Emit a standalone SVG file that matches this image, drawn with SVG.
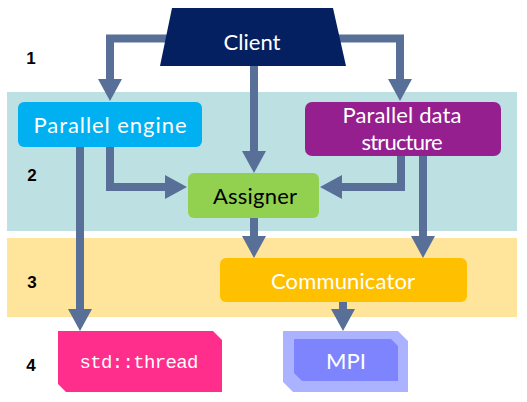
<svg xmlns="http://www.w3.org/2000/svg" width="527" height="402" viewBox="0 0 527 402">
  <style>
    .lbl { font-family: "Lato", "Open Sans", sans-serif; font-size: 22px; fill: #ffffff; text-anchor: middle; }
    .num { font-family: "Liberation Sans", Arial, sans-serif; font-size: 17px; font-weight: bold; fill: #000000; text-anchor: middle; }
    .conn { fill: none; stroke: #587098; stroke-width: 8; stroke-linejoin: miter; marker-end: url(#ah); }
  </style>
  <defs>
    <marker id="ah" markerUnits="userSpaceOnUse" markerWidth="22" markerHeight="24" refX="0" refY="12" orient="auto" viewBox="0 0 22 24">
      <path d="M0,0 L22,12 L0,24 z" fill="#587098"/>
    </marker>
  </defs>
  <rect width="527" height="402" fill="#ffffff"/>
  <g id="bands">
    <rect x="7" y="92" width="510" height="139" fill="#bde0e3"/>
    <rect x="7" y="238" width="510" height="79" fill="#ffe59b"/>
  </g>
  <g id="numbers">
    <text class="num" x="31" y="64">1</text>
    <text class="num" x="32" y="181">2</text>
    <text class="num" x="32" y="288">3</text>
    <text class="num" x="31" y="371">4</text>
  </g>
  <g id="connectors">
    <path class="conn" d="M170,38.5 H110 V79"/>
    <path class="conn" d="M336,38.5 H400 V79"/>
    <path class="conn" d="M254,66 V151"/>
    <path class="conn" d="M110,146 V187 H165"/>
    <path class="conn" d="M401,155 V187 H342"/>
    <path class="conn" d="M80,146 V309"/>
    <path class="conn" d="M423,155 V236"/>
    <path class="conn" d="M254,217 V236"/>
    <path class="conn" d="M343,301 V309"/>
  </g>
  <g id="client">
    <polygon points="172,8 333,8 346,66 160,66" fill="#052061"/>
    <text class="lbl" x="252" y="50">Client</text>
  </g>
  <g id="parallel-engine">
    <rect x="18" y="102" width="184" height="45" rx="6" fill="#00b0f0"/>
    <text class="lbl" x="110" y="133" textLength="153" lengthAdjust="spacing">Parallel engine</text>
  </g>
  <g id="parallel-data-structure">
    <rect x="305" y="102" width="196" height="54" rx="7" fill="#951f8f"/>
    <text class="lbl" x="402" y="123" textLength="119" lengthAdjust="spacing">Parallel data</text>
    <text class="lbl" x="402" y="150" textLength="81" lengthAdjust="spacing">structure</text>
  </g>
  <g id="assigner">
    <rect x="188" y="173" width="131" height="45" rx="6" fill="#92d050"/>
    <text class="lbl" x="255" y="204" style="fill:#000000" textLength="84" lengthAdjust="spacing">Assigner</text>
  </g>
  <g id="communicator">
    <rect x="220" y="258" width="247" height="44" rx="6" fill="#ffc000"/>
    <text class="lbl" x="343" y="289" textLength="144" lengthAdjust="spacing">Communicator</text>
  </g>
  <g id="std-thread">
    <polygon points="58,331 213,331 222,340 222,392 66,392 58,384" fill="#ff2d8b"/>
    <text x="139" y="368" font-family="Liberation Mono, Courier New, monospace" font-size="19" fill="#ffffff" text-anchor="middle" textLength="119" lengthAdjust="spacing">std::thread</text>
  </g>
  <g id="mpi">
    <polygon points="283,331 398,331 408,341 408,392 293,392 283,382" fill="#abb2ff"/>
    <polygon points="294,339 391,339 398,346 398,381 302,381 294,373" fill="#7e84fe"/>
    <text class="lbl" x="346" y="369">MPI</text>
  </g>
</svg>
